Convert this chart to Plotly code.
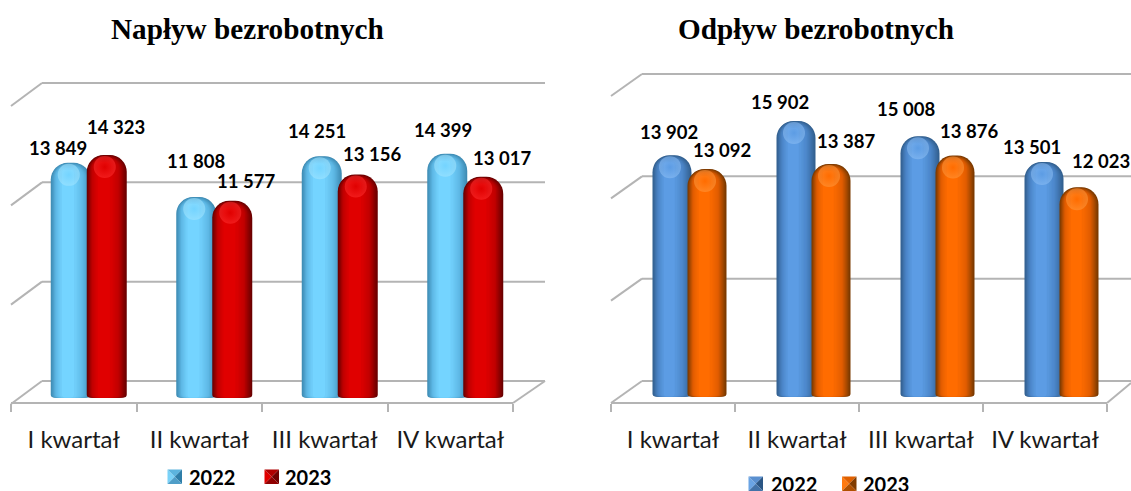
import plotly.graph_objects as go

W, H = 1131, 491
CATS = ["I kwartał", "II kwartał", "III kwartał", "IV kwartał"]
YEARS = ["2022", "2023"]
IN_22 = [13849, 11808, 14251, 14399]
IN_23 = [14323, 11577, 13156, 13017]
OUT_22 = [13902, 15902, 15008, 13501]
OUT_23 = [13092, 13387, 13876, 12023]
GRID_IN = [0, 6000, 12000, 18000]

# label nudges in px (x, y up), as placed by hand in the original
NUDGE_IN_22 = [(-13, 15), (0, 36), (-5, 25), (-4, 24)]
NUDGE_IN_23 = [(9, 28), (14, 20), (14, 20), (19, 19)]
NUDGE_OUT_22 = [(-3, 23), (-16, 19), (-14, 27), (-12, 15)]
NUDGE_OUT_23 = [(15, 19), (15, 23), (14, 25), (22, 26)]

FONT = "Lato"
GREY = "#b4b4b4"
CAP = 3.5


def px(x):
    return x / W


def py(y):
    return 1 - y / H


def mix(a, b, t):
    ca = [int(a[i:i + 2], 16) for i in (1, 3, 5)]
    cb = [int(b[i:i + 2], 16) for i in (1, 3, 5)]
    return "#" + "".join(f"{round(p + (q - p) * t):02x}" for p, q in zip(ca, cb))


def rgba0(c):
    return "rgba(%d,%d,%d,0)" % tuple(int(c[i:i + 2], 16) for i in (1, 3, 5))


INSETS = [0, 1, 2, 3, 4, 5, 6, 7, 8, 9, 10, 11, 12, 14]


def ramp(edge, mid, core, t):
    return mix(edge, mid, t / 0.45) if t < 0.45 else mix(mid, core, (t - 0.45) / 0.55)


fig = go.Figure()
shapes, annotations = [], []


def line(x0, y0, x1, y1, width=2):
    shapes.append(dict(type="line", xref="paper", yref="paper", layer="below",
                       x0=px(x0), y0=py(y0), x1=px(x1), y1=py(y1),
                       line=dict(color=GREY, width=width)))


def series(values, xa, ya, k, step, shift, bw, cols, spot, nudges):
    edge, mid, core = cols
    xs = [i + shift / step for i in range(4)]
    for n, ins in enumerate(INSETS):
        t = ins / INSETS[-1]
        lx = [v - 0.2 * ins / step for v in xs]
        fig.add_trace(go.Bar(
            x=lx + lx,
            y=[v - 0.5 * ins / k for v in values] + [-CAP / k] * 4,
            width=(bw - 2 * ins) / step,
            xaxis=xa, yaxis=ya, showlegend=False, hoverinfo="skip",
            marker=dict(color=ramp(edge, mid, core, t), line=dict(width=0),
                        cornerradius=max(17 - ins, 3))))
    fig.add_trace(go.Scatter(
        x=[v - 2 / step for v in xs], y=[v - 12 / k for v in values],
        mode="markers", xaxis=xa, yaxis=ya, showlegend=False, hoverinfo="skip",
        marker=dict(size=22, color=spot, opacity=0.55, line=dict(width=0),
                    gradient=dict(type="radial", color=rgba0(spot)))))
    for i, v in enumerate(values):
        annotations.append(dict(
            x=xs[i], y=v, xref=xa, yref=ya, text=f"{v // 1000} {v % 1000:03d}",
            showarrow=False, xshift=nudges[i][0], yshift=nudges[i][1],
            xanchor="center", yanchor="middle",
            font=dict(family=FONT, size=18.5, color="#000000", weight="bold")))


def swatch(x0, y0, size, cols, label, tx, ty, box=None):
    x1, y1 = x0 + size, y0 + size
    cx, cy = x0 + size / 2, y0 + size / 2
    tris = [((x0, y0), (x0, y1)), ((x0, y0), (x1, y0)), ((x1, y0), (x1, y1)), ((x0, y1), (x1, y1))]
    for (a, b), c in zip(tris, cols):
        path = (f"M{px(a[0])},{py(a[1])} L{px(b[0])},{py(b[1])} L{px(cx)},{py(cy)} Z")
        shapes.append(dict(type="path", xref="paper", yref="paper", path=path, fillcolor=c,
                           line=dict(width=0)))
    annotations.append(dict(
        x=px(tx), y=py(ty), xref="paper", yref="paper", text=label, showarrow=False,
        xanchor="left", yanchor="middle", height=box, borderpad=0,
        font=dict(family=FONT, size=20, color="#000000", weight="bold")))


def axes(sfx, left, right, front_right, base, k, step):
    top = 60
    x0 = -0.5
    x1 = 3.5 + (right - front_right) / step
    y0 = -(403 - base) / k
    y1 = (base - top) / k
    xk = dict(domain=[px(left), px(right)], range=[x0, x1], tickmode="array",
              tickvals=list(range(4)), ticktext=CATS, ticks="", showgrid=False, zeroline=False,
              showline=False, ticklabelstandoff=20,
              tickfont=dict(family=FONT, size=24, color="#1a1a1a"),
              minor=dict(tickmode="array", tickvals=[-0.5, 0.5, 1.5, 2.5, 3.5], ticks="outside",
                         ticklen=8, tickwidth=2, tickcolor=GREY, showgrid=False),
              anchor="y" + sfx, fixedrange=True)
    yk = dict(domain=[py(403), py(top)], range=[y0, y1], showgrid=False, zeroline=False,
              showline=False, showticklabels=False, ticks="", anchor="x" + sfx, fixedrange=True)
    fig.update_layout({"xaxis" + sfx: xk, "yaxis" + sfx: yk})


# left panel
K1, S1 = 0.01669, 125.5
axes("", 11, 545, 513, 394, K1, S1)
for v in GRID_IN:
    yb = 381 - v * 298 / 18000
    line(42, yb, 545, yb)
    line(11, yb + 23, 42, yb)
line(11, 403, 513, 403)
line(513, 403, 545, 381)
series(IN_22, "x", "y", K1, S1, -3, 40, ("#3f8cb4", "#5fb9e6", "#74d4ff"), "#a5e6ff", NUDGE_IN_22)
series(IN_23, "x", "y", K1, S1, 33, 40, ("#6a0000", "#c00000", "#e00000"), "#ff3030", NUDGE_IN_23)

# right panel
K2, S2 = 0.01711, 124
axes("2", 611, 1131, 1107, 393, K2, S2)
for v in GRID_IN:
    yb = 381 - v * 307 / 18000
    line(642, yb, 1131, yb)
    line(611, yb + 22, 642, yb)
line(611, 403, 1107, 403)
line(1107, 403, 1131, 383)
series(OUT_22, "x2", "y2", K2, S2, -1, 39, ("#33608f", "#4a84c6", "#5c9ce4"), "#8fc0f5", NUDGE_OUT_22)
series(OUT_23, "x2", "y2", K2, S2, 34, 39, ("#7a3a00", "#e05c00", "#ff6c00"), "#ff9a40", NUDGE_OUT_23)

for text, cx in (("Napływ bezrobotnych", 247), ("Odpływ bezrobotnych", 816)):
    annotations.append(dict(
        x=px(cx), y=py(29), xref="paper", yref="paper", text=text, showarrow=False,
        xanchor="center", yanchor="middle",
        font=dict(family="Liberation Serif", size=29.2, color="#000000", weight="bold")))

swatch(167.5, 469.5, 14.5, ("#7ad2f8", "#5cb4de", "#2f7ea8", "#4f9ec8"), YEARS[0], 188, 477)
swatch(264.5, 469.5, 14.5, ("#e00000", "#b00000", "#700000", "#900000"), YEARS[1], 284, 477)
swatch(748.5, 476.5, 14.5, ("#6aa4e4", "#5a90d0", "#2b5684", "#4272a8"), YEARS[0], 770, 483, 15)
swatch(842, 476.5, 14.5, ("#ff7a10", "#e06000", "#803c00", "#b05000"), YEARS[1], 862, 483, 15)

fig.update_layout(
    width=W, height=H, margin=dict(l=0, r=0, t=0, b=0, pad=0, autoexpand=False), autosize=False,
    paper_bgcolor="#ffffff", plot_bgcolor="rgba(0,0,0,0)", barmode="overlay",
    shapes=shapes, annotations=annotations, showlegend=False,
)

fig.write_html("out.html", config={"displayModeBar": False, "responsive": False},
               post_script="document.body.style.margin='0';document.documentElement.style.overflow='hidden';")
